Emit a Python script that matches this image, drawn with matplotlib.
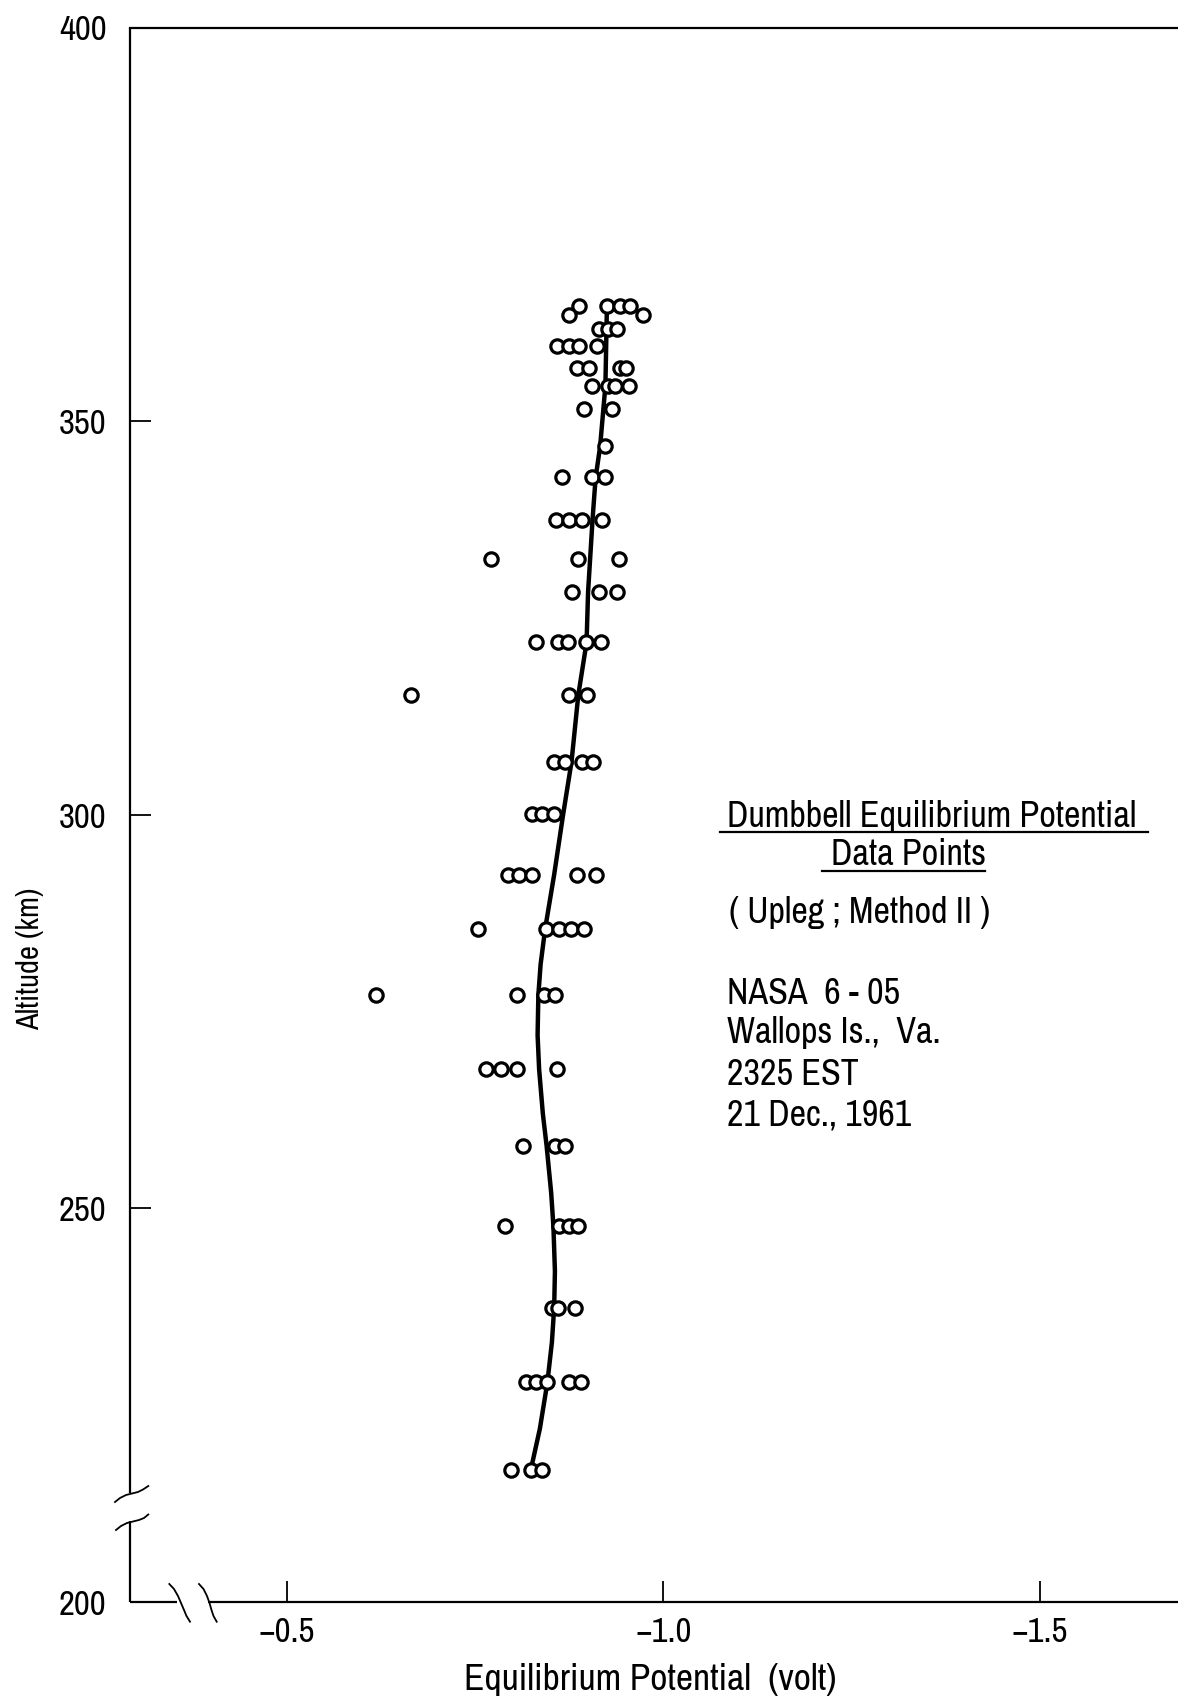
import matplotlib
matplotlib.use("Agg")
import matplotlib.pyplot as plt
from matplotlib.lines import Line2D

# ==================================================
# Dumbbell equilibrium potential vs altitude (NASA 6-05)
# ==================================================

# narrow typewriter-ish look: fall back to DejaVu Sans Condensed
plt.rcParams["font.family"] = ["Archivo Narrow", "DejaVu Sans"]
plt.rcParams["font.stretch"] = "condensed"

# --------------------------------------------------
# data
# --------------------------------------------------
# altitude of each row of data points (km)
row_alt = [364.6, 363.5, 361.7, 359.5, 356.7, 354.5, 351.5, 346.8, 342.9,
           337.5, 332.5, 328.3, 321.9, 315.2, 306.7, 300.1, 292.4, 285.5,
           277.1, 267.7, 257.9, 247.7, 237.4, 227.9, 216.8]

# equilibrium potential of the points in each row (volt)
row_pot = [
    [-0.888, -0.925, -0.943, -0.955],
    [-0.875, -0.973],
    [-0.914, -0.926, -0.939],
    [-0.859, -0.875, -0.888, -0.912],
    [-0.885, -0.901, -0.942, -0.950],
    [-0.905, -0.927, -0.936, -0.954],
    [-0.895, -0.932],
    [-0.923],
    [-0.866, -0.905, -0.923],
    [-0.858, -0.875, -0.892, -0.918],
    [-0.771, -0.887, -0.941],
    [-0.878, -0.915, -0.939],
    [-0.831, -0.860, -0.874, -0.897, -0.917],
    [-0.665, -0.875, -0.899],
    [-0.855, -0.870, -0.892, -0.907],
    [-0.825, -0.839, -0.855],
    [-0.794, -0.808, -0.825, -0.885, -0.910],
    [-0.754, -0.844, -0.862, -0.877, -0.894],
    [-0.619, -0.806, -0.842, -0.856],
    [-0.765, -0.785, -0.805, -0.859],
    [-0.814, -0.856, -0.870],
    [-0.790, -0.861, -0.875, -0.886],
    [-0.852, -0.860, -0.882],
    [-0.818, -0.831, -0.846, -0.875, -0.890],
    [-0.798, -0.824, -0.839],
]

# hand-drawn mean curve
curve_alt = [216.8, 222.0, 227.9, 233.0, 237.4, 242.0, 247.7, 252.0, 257.9,
             262.0, 267.7, 272.0, 277.1, 281.0, 285.5, 292.4, 300.1, 306.7,
             315.2, 321.9, 328.3, 337.6, 342.8, 346.8, 354.5, 359.5, 364.6]
curve_pot = [-0.824, -0.836, -0.846, -0.852, -0.855, -0.856, -0.854, -0.851,
             -0.845, -0.840, -0.835, -0.833, -0.834, -0.837, -0.843, -0.855,
             -0.867, -0.878, -0.887, -0.898, -0.900, -0.906, -0.910, -0.916,
             -0.923, -0.924, -0.925]

x_ticks = [-0.5, -1.0, -1.5]
x_ticklabels = ["\u22120.5", "\u22121.0", "\u22121.5"]
y_ticks = [200, 250, 300, 350, 400]
y_ticklabels = ["200", "250", "300", "350", "400"]

pts_alt = [a for a, row in zip(row_alt, row_pot) for _ in row]
pts_pot = [v for row in row_pot for v in row]

# --------------------------------------------------
# figure
# --------------------------------------------------
W, H = 1178, 1700
fig = plt.figure(figsize=(W / 100, H / 100), dpi=100)


def fx(px):
    return px / W


def fy(py):
    return 1 - py / H


ax = fig.add_axes([fx(130), fy(1602), 1 - fx(130), fy(27.5) - fy(1602)])
ax.set_xlim(-0.292, -1.683)
ax.set_ylim(200, 400)

ax.plot(curve_pot, curve_alt, color="black", lw=3.2, zorder=2)
ax.plot(pts_pot, pts_alt, ls="none", marker="o", ms=9.6, mew=2.3,
        mec="black", mfc="white", zorder=3)

ax.set_xticks(x_ticks)
ax.set_xticklabels(x_ticklabels)
ax.set_yticks(y_ticks)
ax.set_yticklabels(y_ticklabels)
ax.tick_params(axis="both", direction="in", length=15, width=1.3,
               labelsize=25, colors="black")
ax.tick_params(axis="y", pad=17)
ax.tick_params(axis="x", pad=10)

for s in ["left", "bottom", "right"]:
    ax.spines[s].set_visible(False)
ax.spines["top"].set_linewidth(1.6)

# axis lines with break gaps (drawn by hand like the original)
lk = dict(color="black", lw=1.6, solid_capstyle="butt")
fig.add_artist(Line2D([fx(130), fx(130)], [fy(27.5), fy(1493)], **lk))
fig.add_artist(Line2D([fx(130), fx(130)], [fy(1521), fy(1602)], **lk))
fig.add_artist(Line2D([fx(130), fx(177)], [fy(1602), fy(1602)], **lk))
fig.add_artist(Line2D([fx(208), fx(W)], [fy(1602), fy(1602)], **lk))

# break marks
breaks = [
    [(115, 1502), (120, 1498), (126, 1495), (132, 1493.5), (138, 1492), (143, 1489.5), (148.3, 1486)],
    [(116, 1530), (121, 1526), (127, 1523), (133, 1521.5), (139, 1520), (144, 1518), (148.3, 1514.5)],
    [(169.3, 1584), (174, 1589), (178, 1596), (181, 1603), (184, 1610), (186.5, 1616), (190, 1621.7)],
    [(199, 1584), (203.5, 1589), (207, 1596), (209.5, 1603), (211.5, 1610), (213.5, 1616), (216.7, 1621.7)],
]
for b in breaks:
    fig.add_artist(Line2D([fx(p[0]) for p in b], [fy(p[1]) for p in b],
                          color="black", lw=1.3))

# axis labels
fig.text(fx(30), fy(959), "Altitude (km)", rotation=90, ha="center",
         va="center", fontsize=22)
fig.text(fx(650), fy(1690), "Equilibrium Potential  (volt)", ha="center",
         va="baseline", fontsize=27)

# --------------------------------------------------
# annotation block
# --------------------------------------------------
fs = 26
fig.text(fx(727), fy(826.7), "Dumbbell Equilibrium Potential", ha="left",
         va="baseline", fontsize=fs)
fig.add_artist(Line2D([fx(720), fx(1148)], [fy(832.3), fy(832.3)],
                      color="black", lw=1.6))
fig.text(fx(831), fy(865), "Data Points", ha="left", va="baseline", fontsize=fs)
fig.add_artist(Line2D([fx(822), fx(985)], [fy(870.7), fy(870.7)],
                      color="black", lw=1.6))
fig.text(fx(729), fy(923), "( Upleg ; Method II )", ha="left", va="baseline",
         fontsize=fs)
info = ["NASA  6 - 05", "Wallops Is.,  Va.", "2325 EST", "21 Dec., 1961"]
info_y = [1004, 1043.3, 1085, 1125]
for t, y in zip(info, info_y):
    fig.text(fx(727), fy(y), t, ha="left", va="baseline", fontsize=fs)

fig.savefig("out.png", dpi=100)
plt.close(fig)
